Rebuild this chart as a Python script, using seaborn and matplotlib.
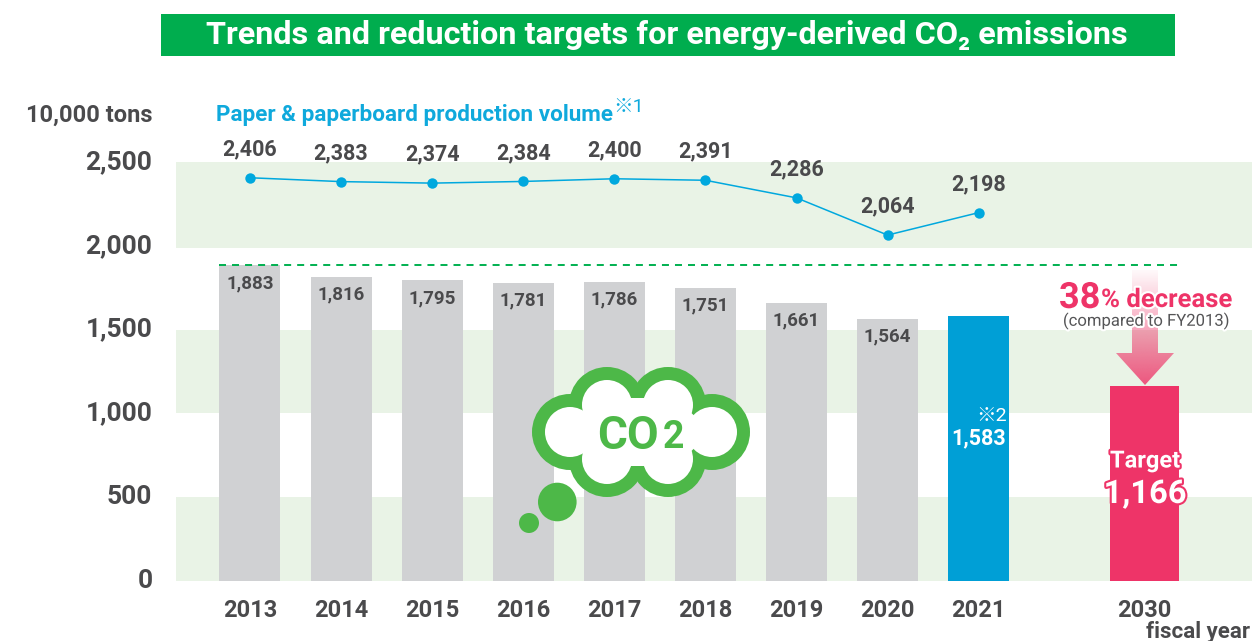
import numpy as np
import pandas as pd
import matplotlib
matplotlib.use("Agg")
import matplotlib.pyplot as plt
import matplotlib.patheffects as pe
from matplotlib.patches import Circle, Polygon, Rectangle
from matplotlib.transforms import ScaledTranslation
import seaborn as sns

# ---- data ----
fiscal_years = ["2013", "2014", "2015", "2016", "2017", "2018", "2019", "2020", "2021"]
co2_emissions = [1883, 1816, 1795, 1781, 1786, 1751, 1661, 1564, 1583]
production = [2406, 2383, 2374, 2384, 2400, 2391, 2286, 2064, 2198]
target_year = "2030"
target_value = 1166
y_ticks = [0, 500, 1000, 1500, 2000, 2500]
title_text = "Trends and reduction targets for energy-derived CO\u2082 emissions"
series_name = "Paper & paperboard production volume"

# ---- colours ----
GREY_TXT = "#4A4A4C"
BAND = "#E9F3E6"
BAR_GREY = "#D0D1D3"
BLUE_BAR = "#009FD6"
PINK = "#EE3468"
LINE_BLUE = "#00A8DE"
TITLE_GREEN = "#00AD4E"
CLOUD = "#4DB848"

W, H = 1253, 641
sns.set_theme(style="white")
plt.rcParams["font.family"] = ["Roboto", "Noto Sans CJK JP", "DejaVu Sans"]

fig = plt.figure(figsize=(W / 100, H / 100), dpi=100, facecolor="white")
ax = fig.add_axes([176 / W, 1 - 581 / H, (1252 - 176) / W, (581 - 162) / H])

slots = list(range(len(fiscal_years)))
target_slot = 9.82

# bands
ax.axhspan(0, 500, color=BAND, lw=0, zorder=0)
ax.axhspan(1000, 1500, color=BAND, lw=0, zorder=0)
ax.axhspan(1985, 2500, color=BAND, lw=0, zorder=0)

# bars
bars = pd.DataFrame({"slot": slots, "value": co2_emissions, "year": fiscal_years})
palette = {y: BAR_GREY for y in fiscal_years}
palette["2021"] = BLUE_BAR
sns.barplot(data=bars, x="slot", y="value", hue="year", palette=palette, dodge=False,
            native_scale=True, width=0.67, legend=False, saturation=1, linewidth=0, ax=ax, zorder=2)
target_df = pd.DataFrame({"slot": [target_slot], "value": [target_value]})
sns.barplot(data=target_df, x="slot", y="value", color=PINK, native_scale=True,
            width=0.757, saturation=1, linewidth=0, ax=ax, zorder=2)

# baseline target dashes
ax.hlines(co2_emissions[0], -0.34, 10.2, color="#00B050", lw=1.4,
          linestyles=(0, (3.6, 3.1)), zorder=3)

# production line
line_df = pd.DataFrame({"slot": slots, "value": production})
sns.lineplot(data=line_df, x="slot", y="value", color=LINE_BLUE, lw=1.1, marker="o",
             markersize=7.5, markeredgewidth=0, ax=ax, zorder=4)

ax.set_xlim(-0.812, 11.0)
ax.set_ylim(0, 2500)
ax.set_xlabel("")
ax.set_ylabel("")
for s in ax.spines.values():
    s.set_visible(False)
ax.set_yticks(y_ticks)
ax.set_yticklabels([f"{v:,}" for v in y_ticks], fontsize=19, fontweight="bold", color=GREY_TXT)
ax.set_xticks(slots + [target_slot])
ax.set_xticklabels(fiscal_years + [target_year], fontsize=17, fontweight="bold", color=GREY_TXT)
ax.tick_params(axis="y", length=0, pad=17)
ax.tick_params(axis="x", length=0, pad=13)
ax.grid(False)
lift = ScaledTranslation(0, 2.5 / 100, fig.dpi_scale_trans)
for lab in ax.get_yticklabels():
    lab.set_transform(lab.get_transform() + lift)

# value labels
for i, v in enumerate(co2_emissions[:-1]):
    ax.annotate(f"{v:,}", (i, v), xytext=(0, -13), textcoords="offset points",
                ha="center", va="center", fontsize=13.5, fontweight="bold", color=GREY_TXT, zorder=5)
for i, v in enumerate(production):
    ax.annotate(f"{v:,}", (i, v), xytext=(0, 20.5), textcoords="offset points",
                ha="center", va="center", fontsize=15.5, fontweight="bold", color=GREY_TXT, zorder=5)

# ---- overlay in pixel units for the infographic furniture ----
ov = fig.add_axes([0, 0, 1, 1], facecolor="none", zorder=10)
ov.set_axis_off()

ov.add_patch(Rectangle((161, 14), 1014, 42, color=TITLE_GREEN, lw=0))
ov.text(667, 35.5, title_text, ha="center", va="center", color="white",
        fontsize=23.3, fontweight="bold")

ov.text(152, 115, "10,000 tons", ha="right", va="center", color=GREY_TXT, fontsize=17, fontweight="bold")
ov.text(216, 115, series_name, ha="left", va="center", color="#0FA9DC", fontsize=16.2, fontweight="bold")
ov.text(613, 107, "\u203b1", ha="left", va="center", color="#0FA9DC", fontsize=14)
ov.text(1250, 632, "fiscal year", ha="right", va="center", color=GREY_TXT, fontsize=16, fontweight="bold")

# 2021 label
ov.text(1007, 416, "\u203b2", ha="right", va="center", color="white", fontsize=14)
ov.text(979, 438, f"{co2_emissions[-1]:,}", ha="center", va="center", color="white", fontsize=15.5, fontweight="bold")

# reduction arrow with fading gradient
arrow_pts = [(1132, 270), (1158, 270), (1158, 353), (1174, 353), (1145, 385), (1116, 353), (1132, 353)]
grad = np.zeros((256, 1, 4))
grad[..., :3] = matplotlib.colors.to_rgb(PINK)
grad[..., 3] = np.linspace(0.03, 0.82, 256)[:, None]
im = ov.imshow(grad, extent=(1116, 1174, 385, 270), aspect="auto", zorder=1)
clip = Polygon(arrow_pts, closed=True, transform=ov.transData, fc="none", ec="none")
ov.add_patch(clip)
im.set_clip_path(clip)

white_halo = [pe.withStroke(linewidth=3, foreground="white")]
ov.text(1059, 298, "38", ha="left", va="center", color=PINK, fontsize=26, fontweight="bold",
        path_effects=white_halo, zorder=3)
ov.text(1101, 300, "% decrease", ha="left", va="center", color=PINK, fontsize=18.5, fontweight="bold",
        path_effects=white_halo, zorder=3)
ov.text(1146, 321, "(compared to FY2013)", ha="center", va="center", color="#555557", fontsize=12,
        path_effects=white_halo, zorder=3)

pink_halo = [pe.withStroke(linewidth=3, foreground=PINK)]
ov.text(1145, 461, "Target", ha="center", va="center", color="white", fontsize=17, fontweight="bold",
        path_effects=pink_halo, zorder=3)
ov.text(1145, 494, f"{target_value:,}", ha="center", va="center", color="white", fontsize=23.5, fontweight="bold",
        path_effects=pink_halo, zorder=3)

# CO2 cloud
lobes = [(570, 432), (607, 405), (668, 405), (712, 432), (668, 459), (607, 459)]
for c in lobes:
    ov.add_patch(Circle(c, 38, fc=CLOUD, ec="none", zorder=4))
ov.add_patch(Polygon(lobes, closed=True, fc=CLOUD, ec="none", zorder=4))
for c in lobes:
    ov.add_patch(Circle(c, 25, fc="white", ec="none", zorder=5))
ov.add_patch(Polygon([(570, 432), (600, 398), (675, 398), (712, 432), (675, 466), (600, 466)],
                     closed=True, fc="white", ec="none", zorder=5))
ov.add_patch(Circle((557.3, 502), 19.3, fc=CLOUD, ec="none", zorder=4))
ov.add_patch(Circle((529, 523), 10, fc=CLOUD, ec="none", zorder=4))
ov.text(628, 436, "CO", ha="center", va="center", color=CLOUD, fontsize=33, fontweight="bold", zorder=6)
ov.text(673, 438, "2", ha="center", va="center", color=CLOUD, fontsize=27, fontweight="bold", zorder=6)

ov.set_xlim(0, W)
ov.set_ylim(H, 0)

fig.savefig("out.png", dpi=100, facecolor="white")
